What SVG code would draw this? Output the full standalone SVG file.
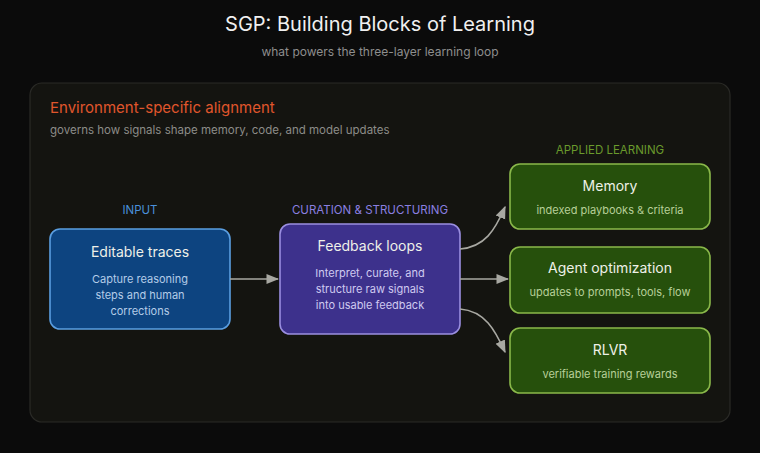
<svg xmlns="http://www.w3.org/2000/svg" width="760" height="453" viewBox="0 0 760 453">
<style>
text{font-family:Inter,"Noto Sans",sans-serif}
.t{font-size:14px;fill:#eef0e8;text-anchor:middle}
.s{font-size:11px;text-anchor:middle}
.h{font-size:11.5px;text-anchor:middle}
.c{fill:none;stroke:#a8a8a2;stroke-width:1.6}
.g rect{fill:#26500c;stroke:#8ab84a;stroke-width:1.6}
.g .s{fill:#b7cf98}
</style>
<defs><marker id="a" viewBox="0 0 10 10" refX="9" refY="5" markerWidth="8" markerHeight="8" orient="auto"><path d="M0 1L10 5L0 9z" fill="#a8a8a2"/></marker></defs>
<rect width="760" height="453" fill="#0b0b0b"/>
<text x="380" y="31" font-size="20" fill="#f0f0f0" text-anchor="middle">SGP: Building Blocks of Learning</text>
<text x="380" y="56" font-size="12" fill="#8e8e8e" text-anchor="middle">what powers the three-layer learning loop</text>
<g id="panel">
<rect x="30" y="83" width="700" height="339" rx="12" fill="#141410" stroke="#2a2a26" stroke-width="1.2"/>
<text x="50" y="113" font-size="15" fill="#e0562c">Environment-specific alignment</text>
<text x="50" y="134" font-size="11.5" fill="#8c8c88">governs how signals shape memory, code, and model updates</text>
</g>
<text class="h" x="140" y="214" fill="#4a90d9">INPUT</text>
<text class="h" x="370" y="214" fill="#8a7fe0">CURATION &amp; STRUCTURING</text>
<text class="h" x="610" y="154" fill="#6a9a2c">APPLIED LEARNING</text>
<g id="traces">
<rect x="50" y="229" width="180" height="100" rx="10" fill="#0d4480" stroke="#5a9ee0" stroke-width="1.6"/>
<text class="t" x="140" y="257">Editable traces</text>
<text class="s" x="140" y="283" fill="#b4cce8">Capture reasoning</text>
<text class="s" x="140" y="299" fill="#b4cce8">steps and human</text>
<text class="s" x="140" y="315" fill="#b4cce8">corrections</text>
</g>
<g id="feedback">
<rect x="280" y="224" width="180" height="110" rx="10" fill="#3d318c" stroke="#9a8ee0" stroke-width="1.6"/>
<text class="t" x="370" y="251">Feedback loops</text>
<text class="s" x="370" y="277" fill="#cfcaf0">Interpret, curate, and</text>
<text class="s" x="370" y="293" fill="#cfcaf0">structure raw signals</text>
<text class="s" x="370" y="309" fill="#cfcaf0">into usable feedback</text>
</g>
<g id="memory" class="g">
<rect x="510" y="164" width="200" height="65" rx="10"/>
<text class="t" x="610" y="191">Memory</text>
<text class="s" x="610" y="214">indexed playbooks &amp; criteria</text>
</g>
<g id="agent" class="g">
<rect x="510" y="247" width="200" height="66" rx="10"/>
<text class="t" x="610" y="273">Agent optimization</text>
<text class="s" x="610" y="296">updates to prompts, tools, flow</text>
</g>
<g id="rlvr" class="g">
<rect x="510" y="328" width="200" height="65" rx="10"/>
<text class="t" x="610" y="355">RLVR</text>
<text class="s" x="610" y="378">verifiable training rewards</text>
</g>
<g id="connectors">
<path class="c" d="M230 279H278" marker-end="url(#a)"/>
<path class="c" d="M460 249C485 247 495 230 505 207" marker-end="url(#a)"/>
<path class="c" d="M460 279H508" marker-end="url(#a)"/>
<path class="c" d="M460 309C485 311 495 330 505 352" marker-end="url(#a)"/>
</g>
</svg>
